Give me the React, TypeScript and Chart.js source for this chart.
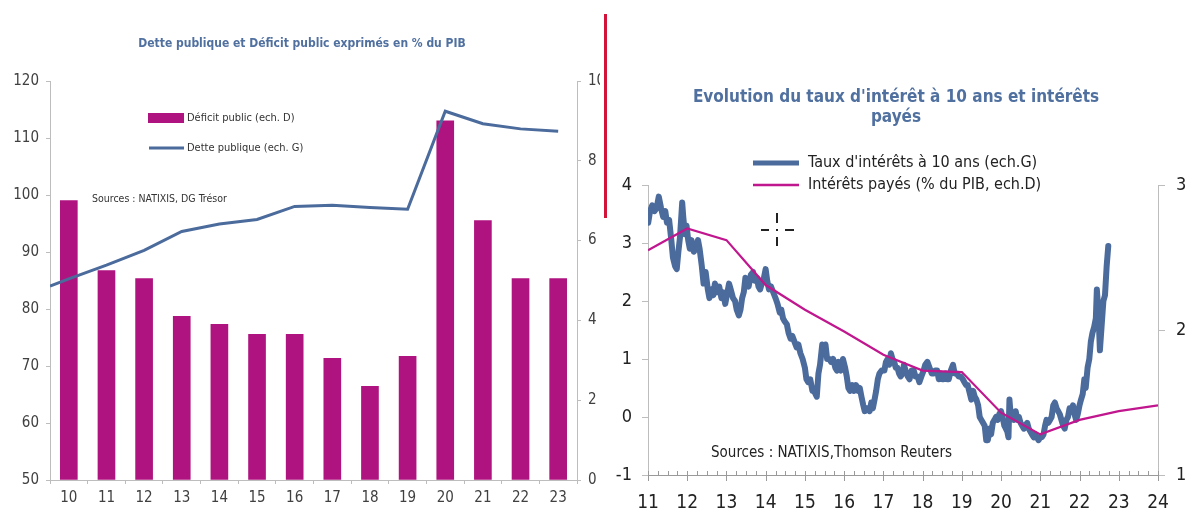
import { useEffect, useRef } from 'react';
import { Chart, registerables } from 'chart.js';

Chart.register(...registerables);

const NARROW = "'Liberation Sans Narrow', 'Arial Narrow', 'DejaVu Sans Condensed', sans-serif";
const BLUE = '#4B6B9C';
const BAR = '#AF137F';
const MAGENTA = '#C0168E';
const AXIS = '#BDBDBD';
const TITLE = '#5070A0';

// ---- Dette publique et déficit public (% du PIB) ----
const years = [2010, 2011, 2012, 2013, 2014, 2015, 2016, 2017, 2018, 2019, 2020, 2021, 2022, 2023];
const yearLabels = ['10', '11', '12', '13', '14', '15', '16', '17', '18', '19', '20', '21', '22', '23'];
const deficitPct = [7.0, 5.25, 5.05, 4.1, 3.9, 3.65, 3.65, 3.05, 2.35, 3.1, 9.0, 6.5, 5.05, 5.05];
const debtPct = [85.3, 87.7, 90.3, 93.6, 94.9, 95.7, 98.0, 98.2, 97.8, 97.5, 114.7, 112.5, 111.6, 111.2];
// debt level where the line meets the left axis (half a year before 2010)
const debtAtAxisStart = 84.0;

// ---- Taux d'intérêt à 10 ans et intérêts payés ----
const oatDates = [
  '2011-01-03', '2011-01-20', '2011-02-10', '2011-03-01', '2011-03-20', '2011-04-10', '2011-05-01', '2011-05-20', '2011-06-10', '2011-06-25',
  '2011-07-15', '2011-08-05', '2011-08-20', '2011-09-10', '2011-09-25', '2011-10-10', '2011-10-25', '2011-11-15', '2011-11-25', '2011-12-10', '2011-12-25',
  '2012-01-10', '2012-01-25', '2012-02-10', '2012-03-01', '2012-03-20', '2012-04-10', '2012-04-25', '2012-05-15', '2012-06-01', '2012-06-20',
  '2012-07-10', '2012-07-25', '2012-08-15', '2012-09-01', '2012-09-15', '2012-10-05', '2012-10-25', '2012-11-15', '2012-12-01', '2012-12-20',
  '2013-01-10', '2013-01-25', '2013-02-10', '2013-03-01', '2013-03-20', '2013-04-05', '2013-04-25', '2013-05-10', '2013-05-25', '2013-06-10',
  '2013-06-25', '2013-07-10', '2013-07-25', '2013-08-15', '2013-09-05', '2013-09-20', '2013-10-10', '2013-10-25', '2013-11-10', '2013-11-25', '2013-12-15', '2013-12-31',
  '2014-01-15', '2014-02-01', '2014-02-20', '2014-03-10', '2014-04-01', '2014-04-20', '2014-05-10', '2014-05-25', '2014-06-10', '2014-06-25',
  '2014-07-15', '2014-08-01', '2014-08-20', '2014-09-05', '2014-09-25', '2014-10-15', '2014-11-01', '2014-11-20', '2014-12-10', '2014-12-31',
  '2015-01-15', '2015-02-01', '2015-02-20', '2015-03-10', '2015-03-25', '2015-04-20', '2015-05-05', '2015-05-20', '2015-06-10', '2015-06-25',
  '2015-07-10', '2015-07-25', '2015-08-15', '2015-09-01', '2015-09-20', '2015-10-10', '2015-10-25', '2015-11-10', '2015-12-01', '2015-12-20',
  '2016-01-10', '2016-01-25', '2016-02-10', '2016-02-25', '2016-03-15', '2016-04-01', '2016-04-20', '2016-05-10', '2016-05-25', '2016-06-10',
  '2016-06-27', '2016-07-10', '2016-07-25', '2016-08-10', '2016-08-25', '2016-09-10', '2016-09-25', '2016-10-10', '2016-10-25', '2016-11-10', '2016-11-25', '2016-12-15',
  '2017-01-10', '2017-01-25', '2017-02-10', '2017-02-25', '2017-03-10', '2017-03-25', '2017-04-10', '2017-04-25', '2017-05-10', '2017-05-25',
  '2017-06-10', '2017-06-27', '2017-07-10', '2017-07-25', '2017-08-15', '2017-09-01', '2017-09-20', '2017-10-10', '2017-10-25', '2017-11-15', '2017-12-01', '2017-12-20',
  '2018-01-10', '2018-01-25', '2018-02-15', '2018-03-05', '2018-03-25', '2018-04-10', '2018-04-25', '2018-05-15', '2018-05-30', '2018-06-15',
  '2018-06-30', '2018-07-15', '2018-07-31', '2018-08-15', '2018-09-01', '2018-09-20', '2018-10-10', '2018-10-25', '2018-11-15', '2018-12-01', '2018-12-20',
  '2019-01-10', '2019-01-25', '2019-02-10', '2019-02-25', '2019-03-15', '2019-03-28', '2019-04-15', '2019-04-30', '2019-05-15', '2019-05-31',
  '2019-06-15', '2019-06-30', '2019-07-15', '2019-07-31', '2019-08-15', '2019-08-30', '2019-09-15', '2019-09-30', '2019-10-15', '2019-10-31',
  '2019-11-15', '2019-11-30', '2019-12-15', '2019-12-31',
  '2020-01-15', '2020-01-31', '2020-02-15', '2020-02-28', '2020-03-09', '2020-03-18', '2020-03-31', '2020-04-15', '2020-04-30', '2020-05-15',
  '2020-05-31', '2020-06-15', '2020-06-30', '2020-07-15', '2020-07-31', '2020-08-15', '2020-08-31', '2020-09-15', '2020-09-30', '2020-10-15',
  '2020-10-31', '2020-11-15', '2020-11-30', '2020-12-15', '2020-12-31',
  '2021-01-15', '2021-01-31', '2021-02-15', '2021-02-28', '2021-03-15', '2021-03-31', '2021-04-15', '2021-04-30', '2021-05-15', '2021-05-31',
  '2021-06-15', '2021-06-30', '2021-07-15', '2021-07-31', '2021-08-15', '2021-08-31', '2021-09-15', '2021-09-30', '2021-10-15', '2021-10-31',
  '2021-11-15', '2021-11-30', '2021-12-15', '2021-12-31',
  '2022-01-15', '2022-01-31', '2022-02-15', '2022-02-28', '2022-03-15', '2022-03-31', '2022-04-15', '2022-04-30', '2022-05-15', '2022-05-31',
  '2022-06-10', '2022-06-25', '2022-07-08', '2022-07-25', '2022-08-10', '2022-08-25', '2022-09-10', '2022-09-25',
];
const oatYield = [
  3.35, 3.55, 3.65, 3.55, 3.6, 3.8, 3.6, 3.45, 3.55, 3.35,
  3.4, 3.05, 2.75, 2.6, 2.55, 2.85, 3.1, 3.7, 3.45, 3.15, 3.3,
  3.05, 2.9, 3.05, 2.85, 2.9, 3.05, 2.9, 2.6, 2.3, 2.5,
  2.2, 2.05, 2.2, 2.1, 2.3, 2.15, 2.25, 2.05, 2.15, 1.95,
  2.15, 2.3, 2.2, 2.05, 2.0, 1.85, 1.75, 1.85, 2.05, 2.15,
  2.4, 2.3, 2.25, 2.45, 2.5, 2.35, 2.4, 2.25, 2.2, 2.3, 2.4, 2.55,
  2.35, 2.2, 2.25, 2.15, 2.05, 1.95, 1.8, 1.85, 1.7, 1.65,
  1.6, 1.45, 1.35, 1.4, 1.3, 1.2, 1.25, 1.1, 1.0, 0.85,
  0.65, 0.6, 0.65, 0.45, 0.45, 0.35, 0.75, 0.9, 1.25, 1.15,
  1.25, 1.0, 1.0, 0.95, 1.0, 0.85, 0.8, 0.95, 0.8, 1.0,
  0.85, 0.7, 0.5, 0.45, 0.55, 0.45, 0.55, 0.45, 0.5, 0.35,
  0.2, 0.1, 0.15, 0.15, 0.1, 0.25, 0.15, 0.3, 0.45, 0.65, 0.75, 0.8,
  0.8, 0.95, 1.0, 0.9, 1.1, 1.0, 0.95, 0.85, 0.85, 0.75,
  0.7, 0.75, 0.9, 0.8, 0.7, 0.65, 0.8, 0.8, 0.7, 0.7, 0.6, 0.7,
  0.8, 0.9, 0.95, 0.85, 0.75, 0.75, 0.8, 0.8, 0.65, 0.75,
  0.65, 0.65, 0.75, 0.65, 0.65, 0.8, 0.9, 0.75, 0.75, 0.7, 0.7,
  0.65, 0.6, 0.55, 0.55, 0.4, 0.3, 0.45, 0.35, 0.3, 0.2,
  0.0, -0.05, -0.1, -0.15, -0.4, -0.4, -0.2, -0.3, -0.1, -0.05,
  0.0, -0.05, 0.05, 0.1,
  0.0, -0.15, -0.2, -0.25, -0.35, 0.3, 0.0, 0.05, -0.05, 0.1,
  -0.05, 0.0, -0.1, -0.15, -0.2, -0.15, -0.1, -0.2, -0.25, -0.3,
  -0.35, -0.3, -0.35, -0.4, -0.35,
  -0.35, -0.3, -0.15, -0.05, -0.1, -0.05, 0.0, 0.2, 0.25, 0.15,
  0.1, 0.05, -0.05, -0.15, -0.2, -0.05, 0.0, 0.15, 0.1, 0.2,
  0.05, -0.05, 0.05, 0.2,
  0.3, 0.4, 0.65, 0.5, 0.85, 1.0, 1.3, 1.45, 1.55, 1.7,
  2.2, 1.8, 1.15, 1.6, 2.0, 2.1, 2.6, 2.95,
];
const interestYears = [2011, 2012, 2013, 2014, 2015, 2016, 2017, 2018, 2019, 2020, 2021, 2022, 2023, 2024];
const interestPaid = [2.55, 2.7, 2.62, 2.31, 2.14, 1.99, 1.83, 1.72, 1.71, 1.43, 1.28, 1.38, 1.44, 1.48];

function toDecimalYear(d: string): number {
  const [y, m, day] = d.split('-').map(Number);
  return y + (m - 1) / 12 + (day - 1) / 365;
}

const leftOverlay = {
  id: 'leftOverlay',
  afterDraw(chart: any) {
    const ctx = chart.ctx;
    ctx.save();
    ctx.textBaseline = 'middle';
    ctx.fillStyle = TITLE;
    ctx.font = `bold 12px ${NARROW}`;
    ctx.textAlign = 'center';
    ctx.fillText('Dette publique et Déficit public exprimés en % du PIB', 302, 44);

    ctx.fillStyle = BAR;
    ctx.fillRect(148, 113, 36, 10);
    ctx.strokeStyle = BLUE;
    ctx.lineWidth = 3;
    ctx.beginPath();
    ctx.moveTo(149, 148);
    ctx.lineTo(184, 148);
    ctx.stroke();

    ctx.fillStyle = '#333';
    ctx.textAlign = 'left';
    ctx.font = `11px ${NARROW}`;
    ctx.fillText('Déficit public (ech. D)', 187, 118);
    ctx.fillText('Dette publique (ech. G)', 187, 148);
    ctx.font = `10.5px ${NARROW}`;
    ctx.fillText('Sources : NATIXIS, DG Trésor', 92, 199);
    ctx.restore();
  },
};

const rightOverlay = {
  id: 'rightOverlay',
  afterDraw(chart: any) {
    const ctx = chart.ctx;
    const xs = chart.scales.x;
    const bottom = chart.chartArea.bottom;
    ctx.save();
    // quarterly and yearly tick marks on the time axis
    ctx.strokeStyle = '#9A9A9A';
    ctx.lineWidth = 1;
    for (let q = 2011 * 4; q <= 2024 * 4; q++) {
      const px = Math.round(xs.getPixelForValue(q / 4)) + 0.5;
      const major = q % 4 === 0;
      ctx.beginPath();
      ctx.moveTo(px, bottom - 4);
      ctx.lineTo(px, major ? bottom + 6 : bottom);
      ctx.stroke();
    }

    ctx.textBaseline = 'middle';
    ctx.textAlign = 'center';
    ctx.fillStyle = TITLE;
    ctx.font = `bold 17px ${NARROW}`;
    ctx.fillText("Evolution du taux d'intérêt à 10 ans et intérêts", 286, 98);
    ctx.fillText('payés', 286, 118);

    ctx.lineCap = 'butt';
    ctx.strokeStyle = BLUE;
    ctx.lineWidth = 5;
    ctx.beginPath();
    ctx.moveTo(143, 163);
    ctx.lineTo(189, 163);
    ctx.stroke();
    ctx.strokeStyle = MAGENTA;
    ctx.lineWidth = 2.5;
    ctx.beginPath();
    ctx.moveTo(143, 185);
    ctx.lineTo(189, 185);
    ctx.stroke();

    ctx.textAlign = 'left';
    ctx.fillStyle = '#222';
    ctx.font = `16px ${NARROW}`;
    ctx.fillText("Taux d'intérêts à 10 ans (ech.G)", 198, 163);
    ctx.fillText('Intérêts payés (% du PIB, ech.D)', 198, 185);
    ctx.font = `15px ${NARROW}`;
    ctx.fillText('Sources : NATIXIS,Thomson Reuters', 101, 453);

    // cross-hair pointer
    ctx.strokeStyle = '#222';
    ctx.lineWidth = 2;
    const cx = 167;
    const cy = 230;
    ctx.beginPath();
    ctx.moveTo(cx - 16, cy); ctx.lineTo(cx - 8, cy);
    ctx.moveTo(cx + 8, cy); ctx.lineTo(cx + 17, cy);
    ctx.moveTo(cx, cy - 17); ctx.lineTo(cx, cy - 7);
    ctx.moveTo(cx, cy + 7); ctx.lineTo(cx, cy + 16);
    ctx.stroke();
    ctx.fillStyle = '#222';
    ctx.fillRect(cx - 1, cy - 1, 2, 2);
    ctx.restore();
  },
};

function DebtDeficitChart() {
  const ref = useRef<HTMLCanvasElement>(null);
  useEffect(() => {
    if (!ref.current) return;
    const tickFont = { family: NARROW, size: 15 };
    const chart = new Chart(ref.current, {
      type: 'bar',
      data: {
        datasets: [
          {
            type: 'line',
            label: 'Dette publique (ech. G)',
            data: [{ x: years[0] - 0.5, y: debtAtAxisStart }, ...debtPct.map((v, i) => ({ x: years[i], y: v }))],
            yAxisID: 'y',
            borderColor: BLUE,
            borderWidth: 3,
            pointRadius: 0,
            tension: 0,
            order: 0,
          },
          {
            type: 'bar',
            label: 'Déficit public (ech. D)',
            data: deficitPct.map((v, i) => ({ x: years[i], y: v })),
            yAxisID: 'y2',
            backgroundColor: BAR,
            barThickness: 17,
            grouped: false,
            order: 1,
          },
        ],
      } as any,
      options: {
        responsive: false,
        animation: false,
        layout: { padding: { top: 81, left: 0, right: 0, bottom: 0 } },
        plugins: { legend: { display: false }, tooltip: { enabled: false } },
        scales: {
          x: {
            type: 'linear',
            position: 'bottom',
            min: years[0] - 0.5,
            max: years[years.length - 1] + 0.5,
            offset: false,
            afterBuildTicks: (s: any) => { s.ticks = years.map((v) => ({ value: v })); },
            grid: { offset: true, drawOnChartArea: false, tickLength: 4, color: AXIS },
            border: { color: AXIS },
            ticks: {
              font: tickFont,
              color: '#404040',
              padding: 5,
              maxRotation: 0,
              autoSkip: false,
              callback: (v: any, i: number) => yearLabels[i],
            },
            afterFit: (s: any) => { s.height = 34; },
          },
          y: {
            position: 'left',
            min: 50,
            max: 120,
            ticks: { stepSize: 10, font: tickFont, color: '#404040', padding: 7 },
            grid: { drawOnChartArea: false, tickLength: 4, color: AXIS },
            border: { color: AXIS },
            afterFit: (s: any) => { s.width = 50; },
          },
          y2: {
            position: 'right',
            min: 0,
            max: 10,
            ticks: { stepSize: 2, font: tickFont, color: '#404040', padding: 7 },
            grid: { drawOnChartArea: false, tickLength: 4, color: AXIS },
            border: { color: AXIS },
            afterFit: (s: any) => { s.width = 23; },
          },
        },
      } as any,
      plugins: [leftOverlay],
    });
    return () => chart.destroy();
  }, []);
  return <canvas ref={ref} width={600} height={514} style={{ position: 'absolute', left: 0, top: 0 }} />;
}

function RatesChart() {
  const ref = useRef<HTMLCanvasElement>(null);
  useEffect(() => {
    if (!ref.current) return;
    const yFont = { family: NARROW, size: 18 };
    const chart = new Chart(ref.current, {
      type: 'line',
      data: {
        datasets: [
          {
            label: 'Intérêts payés (% du PIB, ech.D)',
            data: interestYears.map((yr, i) => ({ x: yr, y: interestPaid[i] })),
            yAxisID: 'y2',
            borderColor: MAGENTA,
            borderWidth: 2.2,
            pointRadius: 0,
            tension: 0,
            order: 0,
          },
          {
            label: "Taux d'intérêts à 10 ans (ech.G)",
            data: oatDates.map((d, i) => ({ x: toDecimalYear(d), y: oatYield[i] })),
            yAxisID: 'y',
            borderColor: BLUE,
            borderWidth: 6,
            pointRadius: 0,
            tension: 0,
            borderJoinStyle: 'round',
            borderCapStyle: 'round',
            order: 1,
          },
        ],
      } as any,
      options: {
        responsive: false,
        animation: false,
        layout: { padding: { top: 185, left: 0, right: 0, bottom: 0 } },
        plugins: { legend: { display: false }, tooltip: { enabled: false } },
        scales: {
          x: {
            type: 'linear',
            min: 2011,
            max: 2024,
            grid: { drawOnChartArea: false, drawTicks: false, color: AXIS },
            border: { color: '#9A9A9A' },
            ticks: {
              stepSize: 1,
              autoSkip: false,
              maxRotation: 0,
              padding: 17,
              font: { family: NARROW, size: 19 },
              color: '#222',
              callback: (v: any) => String(Math.round(Number(v)) % 100).padStart(2, '0'),
            },
            afterFit: (s: any) => { s.height = 39; },
          },
          y: {
            position: 'left',
            min: -1,
            max: 4,
            ticks: { stepSize: 1, font: yFont, color: '#222', padding: 10 },
            grid: { drawOnChartArea: false, tickLength: 6, color: AXIS },
            border: { color: AXIS },
            afterFit: (s: any) => { s.width = 38; },
          },
          y2: {
            position: 'right',
            min: 1,
            max: 3,
            ticks: { stepSize: 1, font: yFont, color: '#222', padding: 11 },
            grid: { drawOnChartArea: false, tickLength: 7, color: AXIS },
            border: { color: AXIS },
            afterFit: (s: any) => { s.width = 39; },
          },
        },
      } as any,
      plugins: [rightOverlay],
    });
    return () => chart.destroy();
  }, []);
  return <canvas ref={ref} width={587} height={514} style={{ position: 'absolute', left: 610, top: 0 }} />;
}

export default function App() {
  return (
    <div style={{ position: 'fixed', left: 0, top: 0, width: 1197, height: 514, background: '#fff', overflow: 'hidden' }}>
      <DebtDeficitChart />
      <div style={{ position: 'absolute', left: 604, top: 14, width: 3, height: 204, background: '#D2143A' }} />
      <RatesChart />
    </div>
  );
}
